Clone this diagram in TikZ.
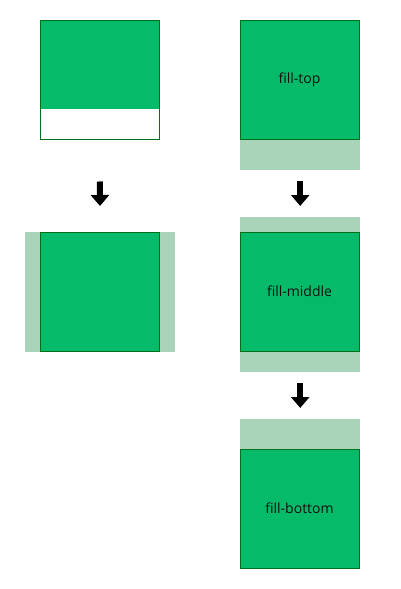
\documentclass[tikz,border=0pt]{standalone}
\usepackage{fontspec}
\setmainfont{Open Sans}
\usetikzlibrary{arrows.meta}
\definecolor{boxfill}{HTML}{05BB69}
\definecolor{boxedge}{HTML}{00701A}
\definecolor{padfill}{HTML}{A9D4BA}
\definecolor{labelink}{HTML}{111111}

\begin{document}
\begin{tikzpicture}[
  x=1pt,
  y=-1pt,
  every node/.style={font=\fontsize{14}{16}\selectfont, labelink},
  square/.style={draw=boxedge, fill=boxfill, line width=1pt, inner sep=0pt,
    minimum width=119pt, minimum height=119pt},
  padband/.style={fill=padfill, draw=none, inner sep=0pt, anchor=north west},
  flow/.style={black, line width=6pt, -{Triangle[length=11pt, width=18pt]}}
]
  % ---- page size, in pixels of the reference
  \path[use as bounding box] (0,0) rectangle (400,589);

  % ---- left column: partly filled box, then the box in its padding ------
  \node[square, fill=white, path picture={
      \fill[boxfill] (path picture bounding box.north west)
        rectangle ([yshift=30pt]path picture bounding box.south east);}]
    (srcbox) at (99.5,79.5) {};
  \node[padband, minimum width=150pt, minimum height=120pt]
    (sidepad) at (25,232) {};
  \node[square] (sidebox) at (99.5,291.5) {};
  \draw[flow, shorten <=42pt, shorten >=26pt] (srcbox.south) -- (sidepad.north);

  % ---- right column: fill-top, fill-middle, fill-bottom ----------------
  \node[padband, minimum width=120pt, minimum height=31pt]
    (toppad) at (240,139) {};
  \node[square] (topbox) at (299.5,79.5) {fill-top};

  \node[padband, minimum width=120pt, minimum height=155pt]
    (midpad) at (240,217) {};
  \node[square] (midbox) at (299.5,291.5) {fill-middle};

  \node[padband, minimum width=120pt, minimum height=30pt]
    (botpad) at (240,419) {};
  \node[square] (botbox) at (299.5,508.5) {fill-bottom};

  \draw[flow, shorten <=11pt, shorten >=11pt] (toppad.south) -- (midpad.north);
  \draw[flow, shorten <=11pt, shorten >=11pt] (midpad.south) -- (botpad.north);
\end{tikzpicture}
\end{document}
